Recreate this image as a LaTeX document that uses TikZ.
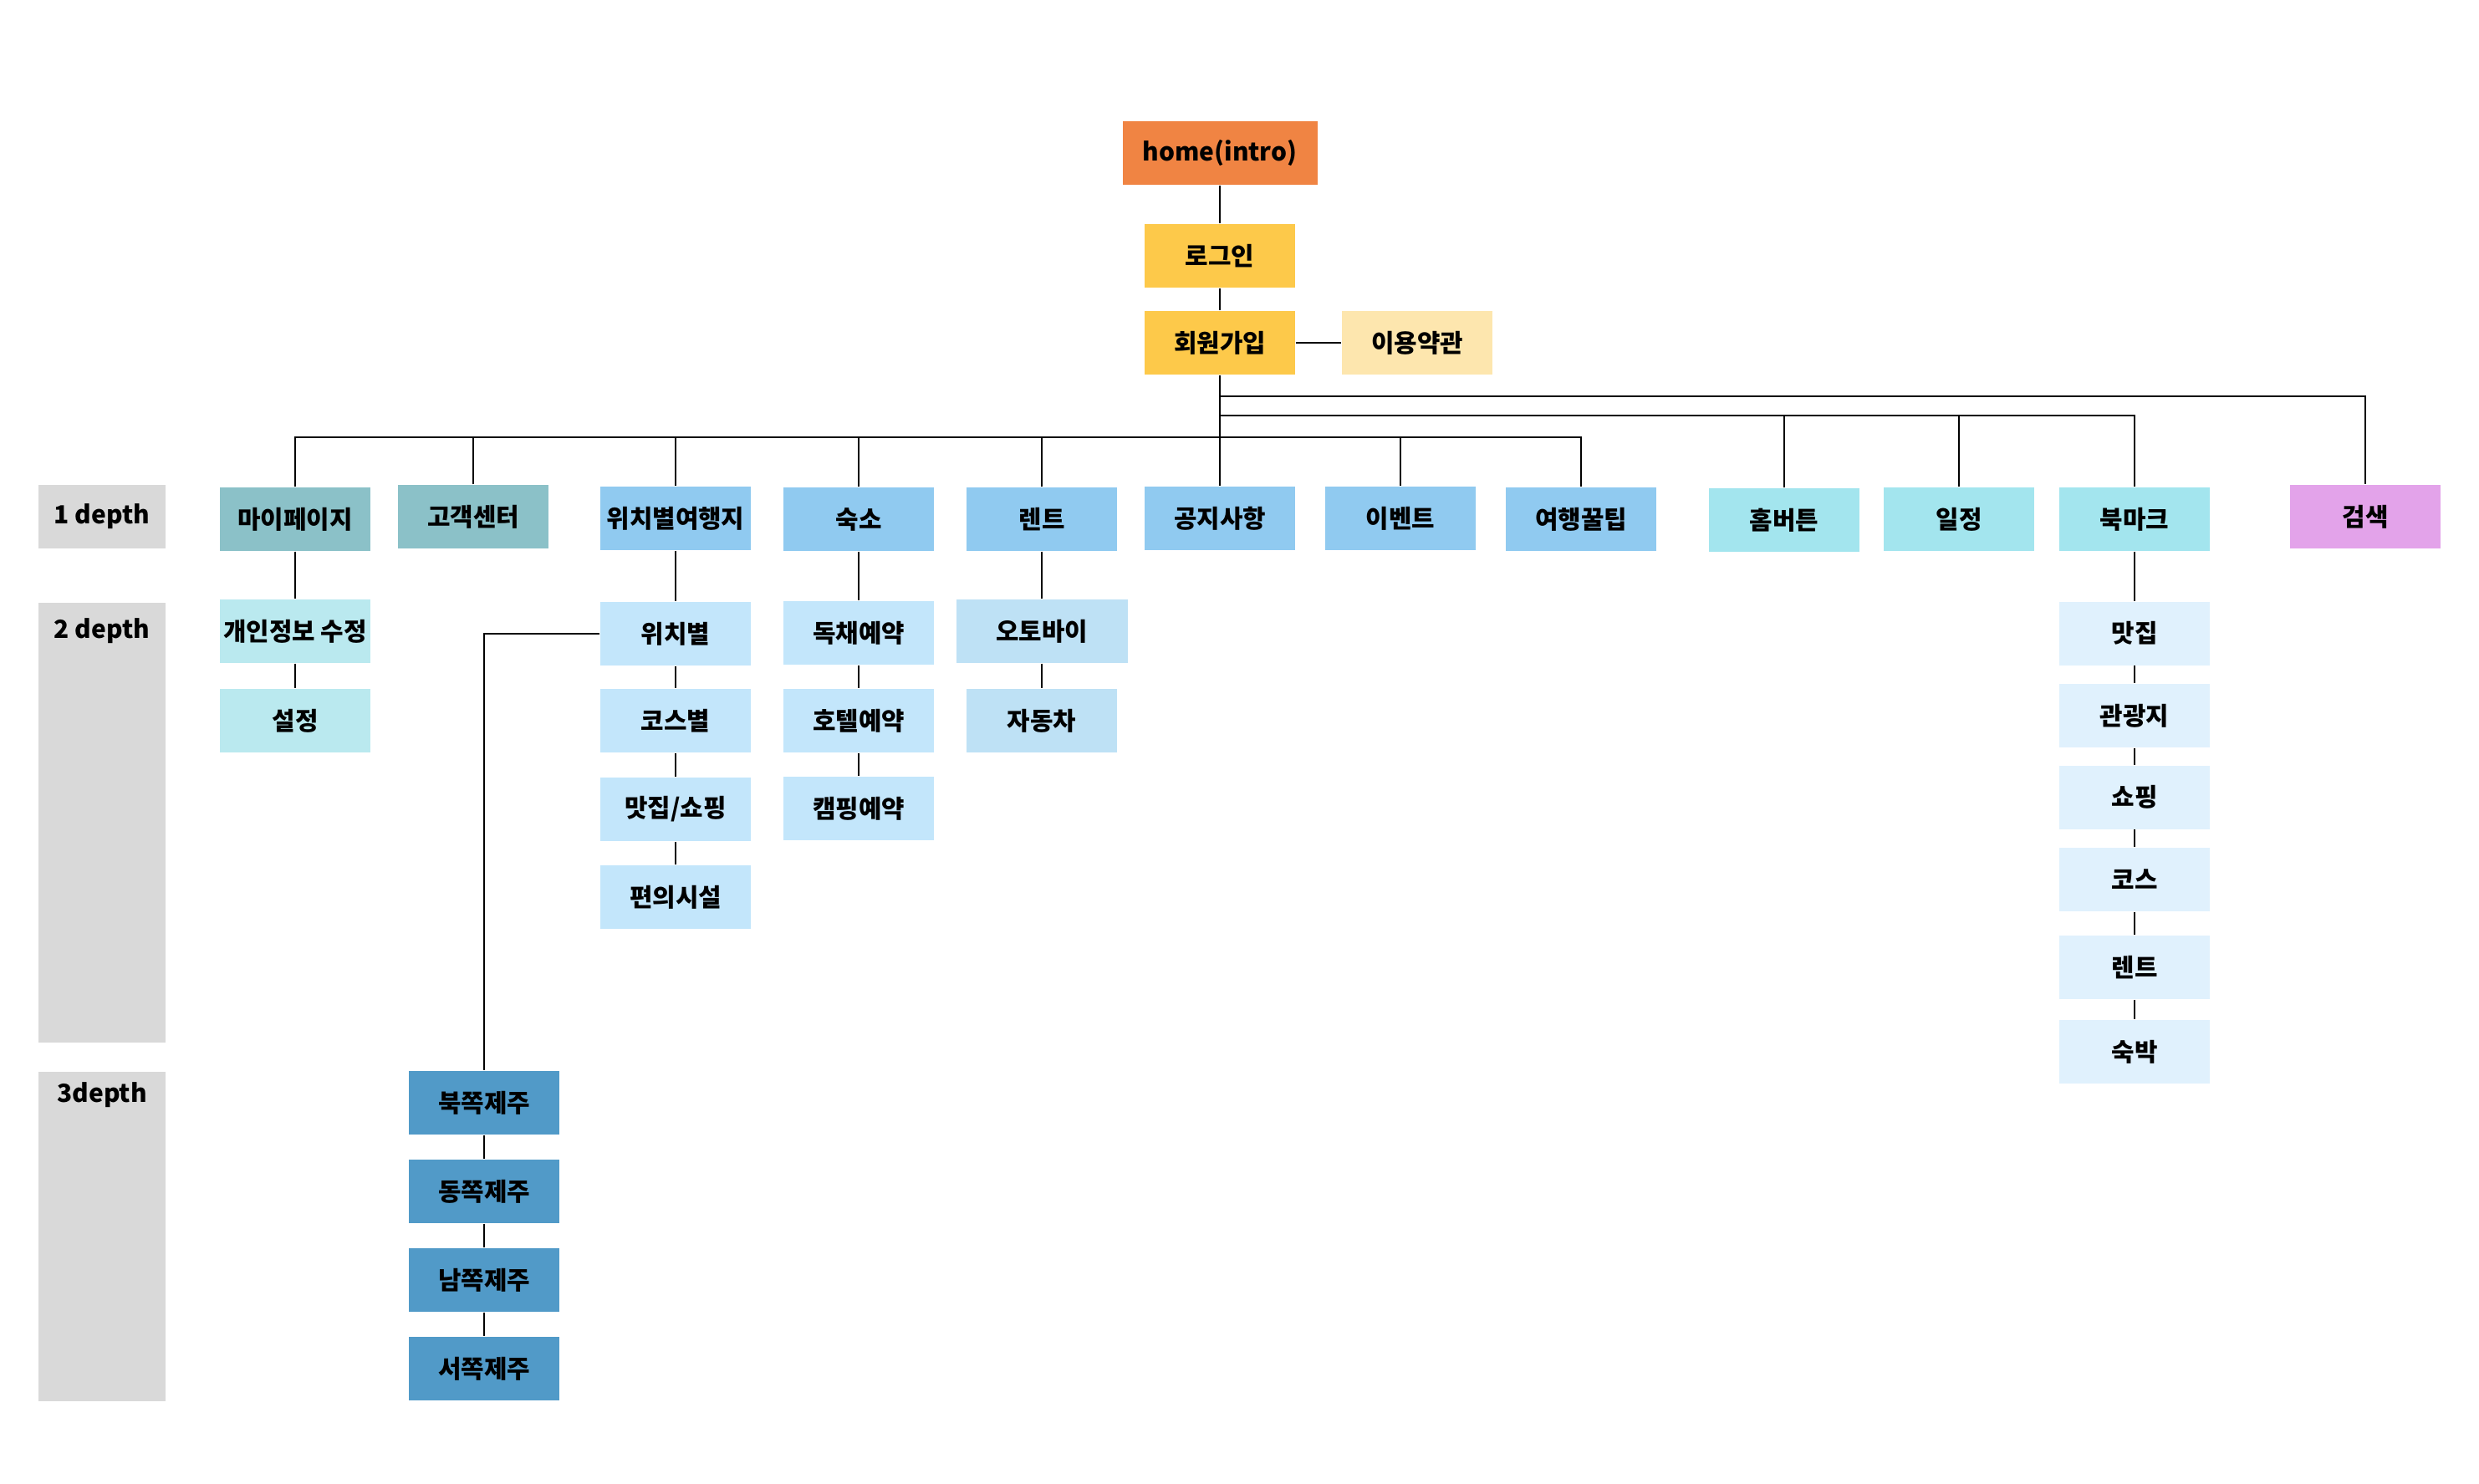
\documentclass[tikz,border=0pt]{standalone}
\usepackage{fontspec}
\setmainfont{Noto Sans CJK KR}
\usepackage{xcolor}
\definecolor{smorange}{RGB}{240,132,67}
\definecolor{smyellow}{RGB}{253,201,74}
\definecolor{smcream}{RGB}{253,230,174}
\definecolor{smteal}{RGB}{139,193,200}
\definecolor{smblue}{RGB}{144,202,240}
\definecolor{smaqua}{RGB}{163,229,238}
\definecolor{smpink}{RGB}{227,163,234}
\definecolor{smmint}{RGB}{186,233,239}
\definecolor{smsky}{RGB}{195,230,251}
\definecolor{smskyb}{RGB}{190,225,245}
\definecolor{smpale}{RGB}{224,241,253}
\definecolor{smdeep}{RGB}{81,154,200}
\definecolor{smgray}{RGB}{217,217,217}

\begin{document}
\begin{tikzpicture}[
  every node/.style={font=\fontsize{8.5}{10}\selectfont\bfseries},
  pagebox/.style={minimum width=1.8cm,minimum height=0.76cm,inner sep=0pt},
  depthbox/.style={fill=smgray,minimum width=1.52cm,inner sep=0pt},
  link/.style={draw=black,line width=0.4pt},
]
  \useasboundingbox (0,0) rectangle (29.65,-17.74);

  % Entry
  \node[pagebox,fill=smorange,minimum width=2.33cm] (home) at (14.59,-1.83) {home(intro)};
  \node[pagebox,fill=smyellow] (login) at (14.59,-3.06) {로그인};
  \node[pagebox,fill=smyellow] (join) at (14.59,-4.10) {회원가입};
  \node[pagebox,fill=smcream] (terms) at (16.95,-4.10) {이용약관};

  % Depth labels
  \node[depthbox,minimum height=0.76cm] (depthA) at (1.22,-6.18) {1 depth};
  \node[depthbox,minimum height=5.26cm,anchor=north,
        label={[anchor=north,inner sep=0pt,yshift=-0.19cm]north:2 depth}] (depthB) at (1.22,-7.20) {};
  \node[depthbox,minimum height=3.94cm,anchor=north,
        label={[anchor=north,inner sep=0pt,yshift=-0.13cm]north:3depth}] (depthC) at (1.22,-12.81) {};

  % 1 depth
  \node[pagebox,fill=smteal] (mypage) at (3.53,-6.21) {마이페이지};
  \node[pagebox,fill=smteal] (help) at (5.66,-6.18) {고객센터};
  \node[pagebox,fill=smblue] (loctrip) at (8.08,-6.20) {위치별여행지};
  \node[pagebox,fill=smblue] (stay) at (10.27,-6.21) {숙소};
  \node[pagebox,fill=smblue] (rent) at (12.46,-6.21) {렌트};
  \node[pagebox,fill=smblue] (notice) at (14.59,-6.20) {공지사항};
  \node[pagebox,fill=smblue] (event) at (16.75,-6.20) {이벤트};
  \node[pagebox,fill=smblue] (tip) at (18.91,-6.21) {여행꿀팁};
  \node[pagebox,fill=smaqua] (homebtn) at (21.34,-6.22) {홈버튼};
  \node[pagebox,fill=smaqua] (plan) at (23.43,-6.21) {일정};
  \node[pagebox,fill=smaqua] (bookmark) at (25.53,-6.21) {북마크};
  \node[pagebox,fill=smpink] (search) at (28.29,-6.18) {검색};

  % 2 depth
  \node[pagebox,fill=smmint] (profile) at (3.53,-7.55) {개인정보 수정};
  \node[pagebox,fill=smmint] (setting) at (3.53,-8.62) {설정};
  \node[pagebox,fill=smsky] (byloc) at (8.08,-7.58) {위치별};
  \node[pagebox,fill=smsky] (bycourse) at (8.08,-8.62) {코스별};
  \node[pagebox,fill=smsky] (food) at (8.08,-9.68) {맛집/쇼핑};
  \node[pagebox,fill=smsky] (facility) at (8.08,-10.73) {편의시설};
  \node[pagebox,fill=smsky] (house) at (10.27,-7.57) {독채예약};
  \node[pagebox,fill=smsky] (hotel) at (10.27,-8.62) {호텔예약};
  \node[pagebox,fill=smsky] (camp) at (10.27,-9.67) {캠핑예약};
  \node[pagebox,fill=smskyb,minimum width=2.05cm] (bike) at (12.46,-7.55) {오토바이};
  \node[pagebox,fill=smskyb] (car) at (12.46,-8.62) {자동차};
  \node[pagebox,fill=smpale] (bmfood) at (25.53,-7.575) {맛집};
  \node[pagebox,fill=smpale] (bmsight) at (25.53,-8.56) {관광지};
  \node[pagebox,fill=smpale] (bmshop) at (25.53,-9.535) {쇼핑};
  \node[pagebox,fill=smpale] (bmcourse) at (25.53,-10.52) {코스};
  \node[pagebox,fill=smpale] (bmrent) at (25.53,-11.57) {렌트};
  \node[pagebox,fill=smpale] (bmstay) at (25.53,-12.58) {숙박};

  % 3 depth
  \node[pagebox,fill=smdeep] (jnorth) at (5.79,-13.19) {북쪽제주};
  \node[pagebox,fill=smdeep] (jeast) at (5.79,-14.25) {동쪽제주};
  \node[pagebox,fill=smdeep] (jsouth) at (5.79,-15.31) {남쪽제주};
  \node[pagebox,fill=smdeep] (jwest) at (5.79,-16.37) {서쪽제주};

  % Connectors
  \coordinate (busA) at (14.59,-5.23);
  \coordinate (busB) at (14.59,-4.97);
  \coordinate (busC) at (14.59,-4.74);
  \draw[link] (join) -- (terms);
  \draw[link] (join) -- (notice);
  \draw[link] (mypage.north) |- (busA) -| (tip.north);
  \foreach \n in {help,loctrip,stay,rent,event}
    \draw[link] (\n.north) -- (\n.north |- busA);
  \draw[link] (busB) -| (bookmark.north);
  \foreach \n in {homebtn,plan}
    \draw[link] (\n.north) -- (\n.north |- busB);
  \draw[link] (busC) -| (search.north);
  \foreach \a/\b in {home/login,login/join,mypage/profile,profile/setting,
      loctrip/byloc,byloc/bycourse,bycourse/food,food/facility,
      stay/house,house/hotel,hotel/camp,rent/bike,bike/car,
      bookmark/bmfood,bmfood/bmsight,bmsight/bmshop,bmshop/bmcourse,bmcourse/bmrent,bmrent/bmstay,
      jnorth/jeast,jeast/jsouth,jsouth/jwest}
    \draw[link] (\a) -- (\b);
  \draw[link] (byloc.west) -| (jnorth.north);
\end{tikzpicture}
\end{document}
